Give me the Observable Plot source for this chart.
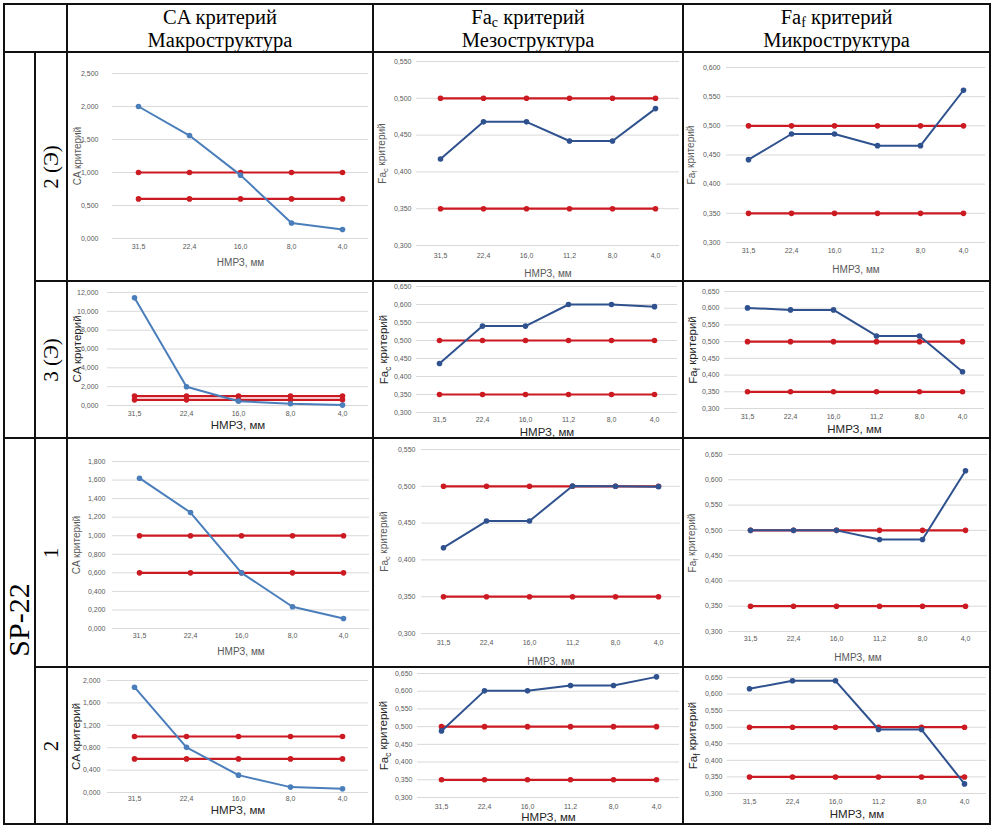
<!DOCTYPE html>
<html><head><meta charset="utf-8">
<script src="https://cdn.jsdelivr.net/npm/d3@7"></script>
<script src="https://cdn.jsdelivr.net/npm/@observablehq/plot@0.6"></script>
<style>
body{margin:0;background:#fff;}
#page{position:relative;width:995px;height:828px;overflow:hidden;font-family:"Liberation Serif","Times New Roman",serif;color:#000;}
.ln{position:absolute;background:#111;}
.hdr{position:absolute;text-align:center;font-size:20.5px;line-height:23px;white-space:nowrap;transform:translateX(-50%);}
.hdr sub{font-size:14px;vertical-align:-3px;line-height:0;}
.rot{position:absolute;white-space:nowrap;transform:translate(-50%,-50%) rotate(-90deg);line-height:1;}
.chart{position:absolute;}
</style></head><body><div id="page"></div>
<script>
// ---- data ----
const xCA = ["31,5","22,4","16,0","8,0","4,0"];
const xFa = ["31,5","22,4","16,0","11,2","8,0","4,0"];
const caLimits = [1.0, 0.6];
const faLimits = [0.5, 0.35];

const ca_2E  = [2.00, 1.56, 0.96, 0.235, 0.135];
const ca_3E  = [11.43, 1.99, 0.46, 0.18, 0.04];
const ca_1   = [1.62, 1.25, 0.60, 0.234, 0.108];
const ca_2   = [1.88, 0.806, 0.31, 0.096, 0.066];
const fac_2E = [0.4175, 0.468, 0.468, 0.442, 0.442, 0.486];
const fac_3E = [0.436, 0.540, 0.540, 0.600, 0.600, 0.594];
const fac_1  = [0.4166, 0.4528, 0.4528, 0.5005, 0.500, 0.4995];
const fac_2  = [0.488, 0.601, 0.601, 0.616, 0.616, 0.6405];
const faf_2E = [0.442, 0.486, 0.486, 0.466, 0.466, 0.561];
const faf_3E = [0.601, 0.595, 0.595, 0.517, 0.517, 0.410];
const faf_1  = [0.500, 0.500, 0.500, 0.482, 0.482, 0.618];
const faf_2  = [0.616, 0.640, 0.640, 0.493, 0.493, 0.329];

const ticksCA_2E = [0, 0.5, 1.0, 1.5, 2.0, 2.5];
const ticksCA_3E = [0, 2, 4, 6, 8, 10, 12];
const ticksCA_1  = [0, 0.2, 0.4, 0.6, 0.8, 1.0, 1.2, 1.4, 1.6, 1.8];
const ticksCA_2  = [0, 0.4, 0.8, 1.2, 1.6, 2.0];
const ticksFa055 = [0.30, 0.35, 0.40, 0.45, 0.50, 0.55];
const ticksFa060 = [0.30, 0.35, 0.40, 0.45, 0.50, 0.55, 0.60];
const ticksFa065 = [0.30, 0.35, 0.40, 0.45, 0.50, 0.55, 0.60, 0.65];

const headers = [
  ["CA критерий", "Макроструктура", null],
  ["Fa", "Мезоструктура", "c"],
  ["Fa", "Микроструктура", "f"]
];
const rowLabels = ["2 (Э)", "3 (Э)", "1", "2"];
const groupLabel = "SP-22";
const xTitle = "НМРЗ, мм";

// ---- layout ----
const colX = [67, 373, 683], colW = [306, 310, 307];
const rowY = [52, 281, 438, 667], rowH = [229, 157, 229, 157];
const BLUE1 = "#4a7ebb", BLUE2 = "#2f528f", RED = "#cc1a22";

const charts = [
  {c:0,r:0,cats:xCA,v:ca_2E,lim:caLimits,t:ticksCA_2E,m:[21,5,43,45],tpY:14,tpX:6,xd:24,yd:-35,yl:["CA критерий"]},
  {c:0,r:1,cats:xCA,v:ca_3E,lim:caLimits,t:ticksCA_3E,m:[11,5,33,40],tpY:9,tpX:6,xd:20,yd:-30,yl:["CA критерий"]},
  {c:0,r:2,cats:xCA,v:ca_1,lim:caLimits,t:ticksCA_1,m:[23,4,39,45],tpY:7,tpX:5,xd:23,yd:-36,yl:["CA критерий"]},
  {c:0,r:3,cats:xCA,v:ca_2,lim:caLimits,t:ticksCA_2,m:[13,5,32,40],tpY:7,tpX:4,xd:18,yd:-31,yl:["CA критерий"]},
  {c:1,r:0,cats:xFa,v:fac_2E,lim:faLimits,t:ticksFa055,m:[9,4,36,43],tpY:5,tpX:8,xd:28,yd:-34,yl:["Fa","c"," критерий"]},
  {c:1,r:1,cats:xFa,v:fac_3E,lim:faLimits,t:ticksFa065,m:[5,6,26,43],tpY:5,tpX:5,xd:20,yd:-32,yl:["Fa","c"," критерий"]},
  {c:1,r:2,cats:xFa,v:fac_1,lim:faLimits,t:ticksFa055,m:[11,3,34,48],tpY:6,tpX:7,xd:28,yd:-37,yl:["Fa","c"," критерий"]},
  {c:1,r:3,cats:xFa,v:fac_2,lim:faLimits,t:ticksFa065,m:[6,4,27,44],tpY:5,tpX:7,xd:20,yd:-33,yl:["Fa","c"," критерий"]},
  {c:2,r:0,cats:xFa,v:faf_2E,lim:faLimits,t:ticksFa060,m:[15,5,39,43],tpY:6,tpX:6,xd:27,yd:-35,yl:["Fa","f"," критерий"]},
  {c:2,r:1,cats:xFa,v:faf_3E,lim:faLimits,t:ticksFa065,m:[10,6,30,41],tpY:5,tpX:6,xd:21,yd:-31,yl:["Fa","f"," критерий"]},
  {c:2,r:2,cats:xFa,v:faf_1,lim:faLimits,t:ticksFa065,m:[16,3,36,45],tpY:6,tpX:5,xd:26,yd:-36,yl:["Fa","f"," критерий"]},
  {c:2,r:3,cats:xFa,v:faf_2,lim:faLimits,t:ticksFa065,m:[10,4,31,44],tpY:5,tpX:6,xd:21,yd:-34,yl:["Fa","f"," критерий"]}
];

const page = document.getElementById("page");
const fmt = d => d.toFixed(3).replace(".", ",");

for (const cfg of charts) {
  const w = colW[cfg.c], h = rowH[cfg.r];
  const big = cfg.r % 2 === 1;
  const labFill = big ? "#262626" : "#595959";
  const labSize = big ? 11.5 : 10;
  const blue = cfg.c === 0 ? BLUE1 : BLUE2;
  const rows = cfg.cats.map((c, i) => ({c, v: cfg.v[i]}));
  const lim = cfg.lim.flatMap(l => cfg.cats.map(c => ({c, v: l, k: String(l)})));
  const ylText = cfg.yl.join("");
  const svg = Plot.plot({
    width: w, height: h,
    marginTop: cfg.m[0], marginRight: cfg.m[1], marginBottom: cfg.m[2], marginLeft: cfg.m[3],
    style: {fontFamily: "'Liberation Sans', Arial, sans-serif", background: "transparent", overflow: "visible"},
    x: {type: "point", domain: cfg.cats, padding: 0.5},
    y: {domain: [cfg.t[0], cfg.t[cfg.t.length - 1]]},
    marks: [
      Plot.ruleY(cfg.t, {stroke: "#d9d9d9", strokeWidth: 1}),
      Plot.axisY({ticks: cfg.t, tickSize: 0, tickPadding: cfg.tpY, tickFormat: fmt, fontSize: 7, fill: "#595959", label: null}),
      Plot.axisX({tickSize: 0, tickPadding: cfg.tpX, fontSize: 7, fill: "#595959", label: null}),
      Plot.line(lim, {x: "c", y: "v", z: "k", stroke: RED, strokeWidth: 2.2}),
      Plot.dot(lim, {x: "c", y: "v", r: 2.8, fill: RED}),
      Plot.line(rows, {x: "c", y: "v", stroke: blue, strokeWidth: 2}),
      Plot.dot(rows, {x: "c", y: "v", r: 2.8, fill: blue}),
      Plot.text([xTitle], {text: d => d, frameAnchor: "bottom", dy: cfg.xd, lineAnchor: "middle", textAnchor: "middle", fontSize: labSize, fill: labFill}),
      Plot.text([ylText], {text: d => d, frameAnchor: "left", dx: cfg.yd, rotate: -90, lineAnchor: "middle", textAnchor: "middle", fontSize: labSize, fill: labFill})
    ]
  });
  if (cfg.yl.length === 3) {
    d3.select(svg).selectAll("text").filter(function() { return this.textContent === ylText; }).each(function() {
      const t = d3.select(this);
      t.text(null);
      t.append("tspan").text(cfg.yl[0]);
      t.append("tspan").attr("dy", "0.3em").attr("font-size", "0.72em").text(cfg.yl[1]);
      t.append("tspan").attr("dy", "-0.3em").text(cfg.yl[2]);
    });
  }
  const div = document.createElement("div");
  div.className = "chart";
  div.style.left = colX[cfg.c] + "px";
  div.style.top = rowY[cfg.r] + "px";
  div.appendChild(svg);
  page.appendChild(div);
}

// headers
headers.forEach((hd, i) => {
  const d = document.createElement("div");
  d.className = "hdr";
  d.style.left = (colX[i] + colW[i] / 2) + "px";
  d.style.top = "6px";
  const l1 = hd[2] ? `${hd[0]}<sub>${hd[2]}</sub> критерий` : hd[0];
  d.innerHTML = `${l1}<br>${hd[1]}`;
  page.appendChild(d);
});

// row labels
rowLabels.forEach((t, i) => {
  const d = document.createElement("div");
  d.className = "rot";
  d.style.fontSize = "21px";
  d.style.left = "51px";
  d.style.top = (rowY[i] + rowH[i] / 2) + "px";
  d.textContent = t;
  page.appendChild(d);
});
{
  const d = document.createElement("div");
  d.className = "rot";
  d.style.fontSize = "30px";
  d.style.left = "19px";
  d.style.top = "620px";
  d.textContent = groupLabel;
  page.appendChild(d);
}

// table lines
function hline(x1, x2, y) { const d = document.createElement("div"); d.className = "ln"; Object.assign(d.style, {left: (x1 - 1) + "px", top: (y - 1) + "px", width: (x2 - x1 + 2) + "px", height: "2px"}); page.appendChild(d); }
function vline(x, y1, y2) { const d = document.createElement("div"); d.className = "ln"; Object.assign(d.style, {left: (x - 1) + "px", top: (y1 - 1) + "px", width: "2px", height: (y2 - y1 + 2) + "px"}); page.appendChild(d); }
hline(4, 990, 4); hline(4, 990, 52); hline(35, 990, 281); hline(4, 990, 438); hline(35, 990, 667); hline(4, 990, 824);
vline(4, 4, 824); vline(990, 4, 824); vline(35, 52, 824); vline(67, 4, 824); vline(373, 4, 824); vline(683, 4, 824);
</script></body></html>
